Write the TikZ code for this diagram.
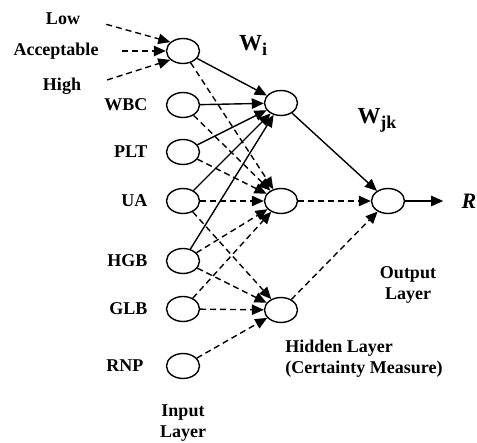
\documentclass[tikz,border=0pt]{standalone}
\usepackage{fontspec}
\setmainfont{Liberation Serif}
\usetikzlibrary{arrows.meta,positioning,shapes.geometric}

\begin{document}
\begin{tikzpicture}[
  x=0.5pt, y=-0.5pt,
  font=\bfseries\fontsize{9}{11}\selectfont,
  >={Triangle[length=6pt,width=5.2pt]},
  neuron/.style={
    draw, ellipse, line width=0.7pt, inner sep=0pt,
    minimum width=16.5pt, minimum height=12.5pt
  },
  inlbl/.style={inner sep=1pt},
  layerlbl/.style={align=center, inner sep=0pt,
    font=\bfseries\fontsize{9}{10.5}\selectfont},
  wlbl/.style={inner sep=0pt, font=\bfseries\fontsize{11.5}{13}\selectfont},
  solidarr/.style={->, line width=0.7pt},
  dasharr/.style={->, line width=0.7pt, dash pattern=on 3pt off 2pt}
]
\useasboundingbox (0,0) rectangle (477,443);

% =============================================================
% input layer
% =============================================================
\node[neuron] (fuzz) at (183,51)  {};
\node[neuron] (wbc)  at (183,105) {};
\node[neuron] (plt)  at (183,152) {};
\node[neuron] (ua)   at (183,201) {};
\node[neuron] (hgb)  at (183,261) {};
\node[neuron] (glb)  at (183,309) {};
\node[neuron] (rnp)  at (183,366) {};

\node (low)  at (63,19) {Low};
\node (acc)  at (56,51) {Acceptable};
\node (high) at (62,86) {High};

\node[inlbl, left=8pt of wbc] (lwbc) {WBC};
\node[inlbl, left=8pt of plt] (lplt) {PLT};
\node[inlbl, left=8pt of ua]  (lua)  {UA};
\node[inlbl, left=8pt of hgb] (lhgb) {HGB};
\node[inlbl, left=8pt of glb] (lglb) {GLB};
\node[inlbl, left=10pt of rnp] (lrnp) {RNP};

\node[layerlbl] (inlay) at (183,423) {Input\\Layer};

% =============================================================
% hidden + output layer
% =============================================================
\node[neuron] (h1) at (281,103) {};
\node[neuron] (h2) at (281,201) {};
\node[neuron] (h3) at (281,310) {};
\node[neuron] (out) at (388,201) {};

\node[right=28pt of out, inner sep=0pt,
      font=\bfseries\itshape\fontsize{11}{13}\selectfont] (res) {R};

\node[wlbl] (wi)  at (253,45)  {W\raisebox{-2.5pt}{\fontsize{9}{9}\selectfont i}};
\node[wlbl] (wjk) at (377,120) {W\raisebox{-2.5pt}{\fontsize{9}{9}\selectfont jk}};

\node[layerlbl] (outlay) at (408,285) {Output\\Layer};
\node[layerlbl, align=left, anchor=north west] (hidlay) at (285,340)
   {Hidden Layer\\(Certainty Measure)};

% =============================================================
% arrows
% =============================================================

% linguistic terms -> first input
\draw[dasharr, shorten <=10pt] (low.east) -- (fuzz.145);
\draw[dasharr, shorten <=8pt] (acc.east) -- (fuzz.west);
\draw[dasharr, shorten <=10pt] (high.east) -- (fuzz.215);

% solid weights -> upper hidden neuron
\draw[solidarr] (fuzz) -- (h1);
\draw[solidarr] (wbc) -- (h1);
\draw[solidarr] (plt) -- (h1);
\draw[solidarr] (ua) -- (h1);
\draw[solidarr] (hgb) -- (h1);

% dashed weights -> middle hidden neuron
\draw[dasharr] (fuzz) -- (h2);
\draw[dasharr] (wbc) -- (h2);
\draw[dasharr] (plt) -- (h2);
\draw[dasharr] (ua) -- (h2);
\draw[dasharr] (hgb) -- (h2);
\draw[dasharr] (glb) -- (h2);

% dashed weights -> lower hidden neuron
\draw[dasharr] (ua) -- (h3);
\draw[dasharr] (hgb) -- (h3);
\draw[dasharr] (glb) -- (h3);
\draw[dasharr] (rnp) -- (h3);

% hidden -> output
\draw[solidarr] (h1) -- (out);
\draw[dasharr] (h2) -- (out);
\draw[dasharr] (h3) -- (out);

% output -> result
\draw[solidarr, shorten >=9pt] (out) -- (res);

\end{tikzpicture}
\end{document}
